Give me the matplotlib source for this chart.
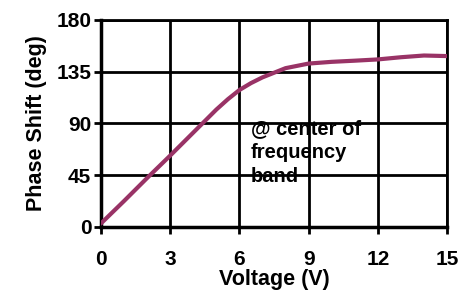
import matplotlib.pyplot as plt
import numpy as np

plt.rcParams['font.family'] = ['Liberation Sans', 'DejaVu Sans']
plt.rcParams['font.weight'] = 'bold'

voltage = [0, 1, 2, 3, 4, 5, 5.5, 6, 6.5, 7, 7.5, 8, 9, 10, 11, 12, 13, 14, 15]
phase_shift = [3, 22.5, 42.5, 62, 82, 102, 111, 119, 125, 130, 134, 138, 142, 143.5, 144.5, 145.6, 147.5, 149, 148.5]

x_ticks = [0, 3, 6, 9, 12, 15]
y_ticks = [0, 45, 90, 135, 180]

fig = plt.figure(figsize=(4.59, 2.92), dpi=100)
ax = fig.add_axes([0.220, 0.223, 0.754, 0.709])

ax.plot(voltage, phase_shift, color='#993366', linewidth=3, solid_capstyle='round', zorder=3)

ax.set_xlim(0, 15)
ax.set_ylim(0, 180)
ax.set_xticks(x_ticks)
ax.set_yticks(y_ticks)
ax.grid(True, color='black', linewidth=2)
for s in ax.spines.values():
    s.set_linewidth(2)
ax.spines['left'].set_linewidth(2.5)
ax.spines['bottom'].set_linewidth(2.5)
ax.tick_params(direction='out', length=5, width=2, labelsize=15)
ax.tick_params(axis='x', pad=12)
ax.tick_params(axis='y', pad=2)

ax.set_xlabel('Voltage (V)', fontsize=15.5, fontweight='bold', labelpad=0)
ax.set_ylabel('Phase Shift (deg)', fontsize=15.5, fontweight='bold', labelpad=7)

# annotation inside the plot
ax.text(6.5, 94, '@ center of\nfrequency\nband', fontsize=14.5, fontweight='bold',
        va='top', ha='left', linespacing=1.35)

fig.savefig('out.png', dpi=100)
